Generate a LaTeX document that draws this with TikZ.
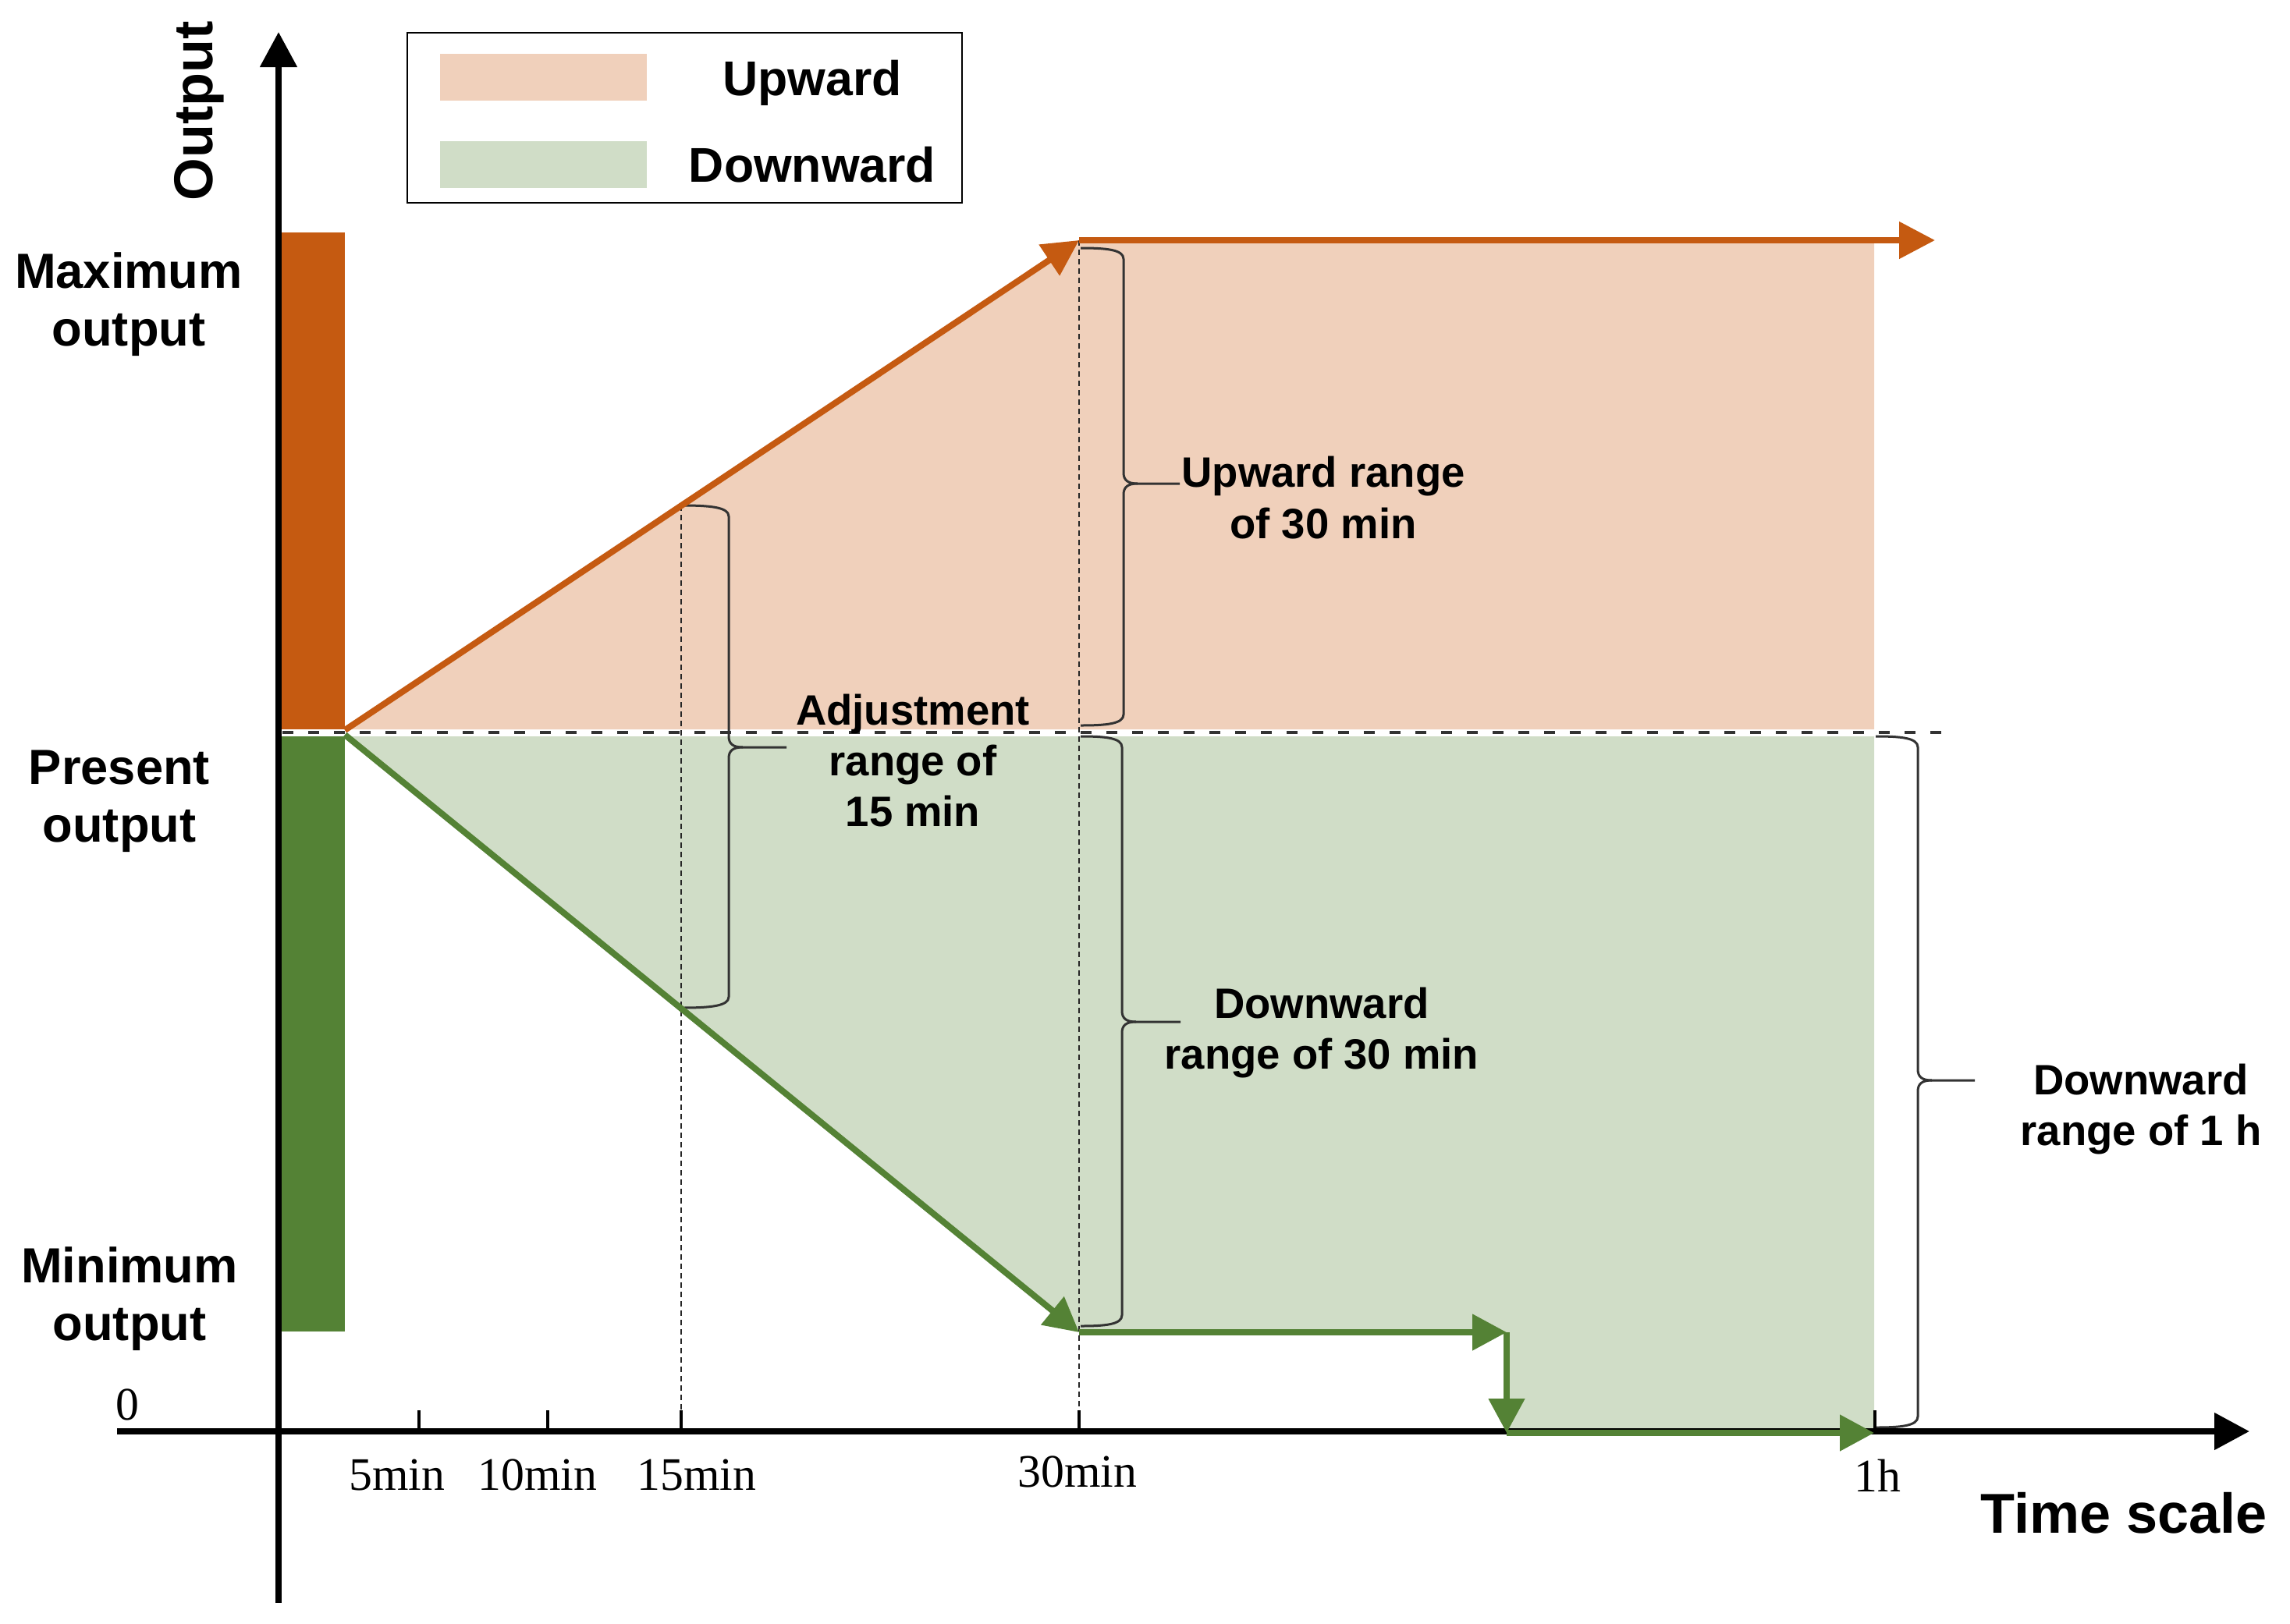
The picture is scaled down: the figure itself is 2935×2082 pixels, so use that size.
\documentclass[tikz,border=0pt]{standalone}
\usepackage{fontspec}
\setmainfont{Liberation Sans}
\newfontfamily\tnr{Liberation Serif}
\usetikzlibrary{arrows.meta}
\definecolor{orgD}{HTML}{C55A11}
\definecolor{orgL}{HTML}{F0D0BB}
\definecolor{grnD}{HTML}{548235}
\definecolor{grnL}{HTML}{D0DDC7}
% x0 y0 y1 xspine ycusp xtip name
\newcommand{\mybrace}[7]{%
 \draw[brc] (#1,#2) .. controls ({#1+0.6*(#4-#1)},#2) and (#4,{#2+2}) .. (#4,{#2+14}) -- (#4,{#5-14}) .. controls (#4,{#5-4}) and ({#4+6},#5) .. ({#4+18},#5) -- (#6,#5) coordinate (#7);
 \draw[brc] ({#4+18},#5) .. controls ({#4+6},#5) and (#4,{#5+4}) .. (#4,{#5+14}) -- (#4,{#3-14}) .. controls (#4,{#3-2}) and ({#1+0.6*(#4-#1)},#3) .. (#1,#3);
}
\tikzset{
 axisline/.style={line width=0.8mm, -{Triangle[length=4.5mm,width=4.6mm]}},
 oline/.style={draw=orgD, line width=0.8mm, -{Triangle[length=4.6mm,width=4.6mm]}},
 gline/.style={draw=grnD, line width=0.8mm, -{Triangle[length=4.4mm,width=4.5mm]}},
 vdash/.style={draw=black!85, line width=0.12mm, dash pattern=on 0.7mm off 0.5mm},
 hdash/.style={draw=black!80, line width=0.4mm, dash pattern=on 1.4mm off 1.9mm},
 brc/.style={draw=black!80, line width=0.3mm},
 tickmark/.style={line width=0.4mm},
 lbl/.style={font=\bfseries\fontsize{18}{21}\selectfont, align=center, inner sep=0pt},
 blbl/.style={font=\bfseries\fontsize{15.5}{18.6}\selectfont, align=center, inner sep=0pt},
 tlbl/.style={font=\tnr\fontsize{17}{20}\selectfont, inner sep=0pt, anchor=base},
}
\begin{document}
\begin{tikzpicture}[x=0.1mm,y=-0.1mm]
\useasboundingbox (0,0) rectangle (2935,2082);
% key points
\coordinate (Ytop) at (357,41);
\coordinate (Ybot) at (357,2055);
\coordinate (Xl) at (150,1835);
\coordinate (Xr) at (2883,1835);
\coordinate (P) at (442,936);
\coordinate (P2) at (442,942);
\coordinate (U) at (1383,308);
\coordinate (Uend) at (2480,308);
\coordinate (D) at (1383,1708);
\coordinate (D2) at (1931,1708);
\coordinate (D3) at (1931,1837);
\coordinate (D4) at (2402,1837);
% fills
\fill[orgL] (442,935) -- (U) -- (2402,308) -- (2402,935) -- cycle;
\fill[grnL] (442,944) -- (D) -- (D2) -- (1931,1835) -- (2402,1835) -- (2402,944) -- cycle;
% legend
\draw[line width=0.2mm] (522,42) rectangle (1233,260);
\fill[orgL] (564,69) rectangle (829,129);
\fill[grnL] (564,181) rectangle (829,241);
\node[font=\bfseries\fontsize{17.8}{21}\selectfont, inner sep=0pt, anchor=base] (legU) at (1041,122) {Upward};
\node[font=\bfseries\fontsize{17.8}{21}\selectfont, inner sep=0pt, anchor=base] (legD) at (1041,233) {Downward};
% dashed verticals
\draw[vdash] (873,648) -- (873,1835);
\draw[vdash] (U) -- (1383,1835);
% braces
\mybrace{873}{648}{1292}{934}{958}{1008}{b15}
\mybrace{1385}{318}{930}{1440}{620}{1512}{bu30}
\mybrace{1385}{944}{1700}{1438}{1310}{1513}{bd30}
\mybrace{2404}{944}{1830}{2458}{1385}{2531}{b1h}
% dashed present output line
\draw[hdash] (362,939) -- (2488,939);
% axes and ticks
\draw[axisline] (Ybot) -- (Ytop);
\draw[axisline] (Xl) -- (Xr);
\foreach \x in {537,702,873,1383,2403} \draw[tickmark] (\x,1808) -- (\x,1835);
% bars
\fill[orgD] (361,298) rectangle (442,935);
\fill[grnD] (361,944) rectangle (442,1707);
% ramp lines
\draw[oline] (P) -- (U);
\draw[oline] (U) -- (Uend);
\draw[gline] (P2) -- (D);
\draw[gline] (D) -- (D2);
\draw[gline] (D2) -- (D3);
\draw[gline] (D3) -- (D4);
% axis labels
\node[font=\bfseries\fontsize{20}{24}\selectfont, rotate=90, inner sep=0pt] (ylab) at (255,142) {Output};
\node[font=\bfseries\fontsize{20.5}{24}\selectfont, inner sep=0pt, anchor=base] (xlab) at (2722,1965) {Time scale};
\node[tlbl] (t0) at (163,1820) {0};
\node[tlbl] (t5) at (509,1910) {5min};
\node[tlbl] (t10) at (689,1910) {10min};
\node[tlbl] (t15) at (893,1910) {15min};
\node[tlbl] (t30) at (1381,1906) {30min};
\node[tlbl] (t60) at (2406,1912) {1h};
% left labels
\node[lbl] (lmax) at (165,390) {Maximum\\output};
\node[lbl] (lpre) at (153,1027) {Present\\output};
\node[lbl] (lmin) at (166,1665) {Minimum\\output};
% brace labels
\node[blbl] (l15) at (1170,975) {Adjustment\\range of\\15 min};
\node[blbl] (lu30) at (1696,638) {Upward range\\of 30 min};
\node[blbl] (ld30) at (1694,1324) {Downward\\range of 30 min};
\node[blbl] (ld1h) at (2744,1422) {Downward\\range of 1 h};
\end{tikzpicture}
\end{document}
